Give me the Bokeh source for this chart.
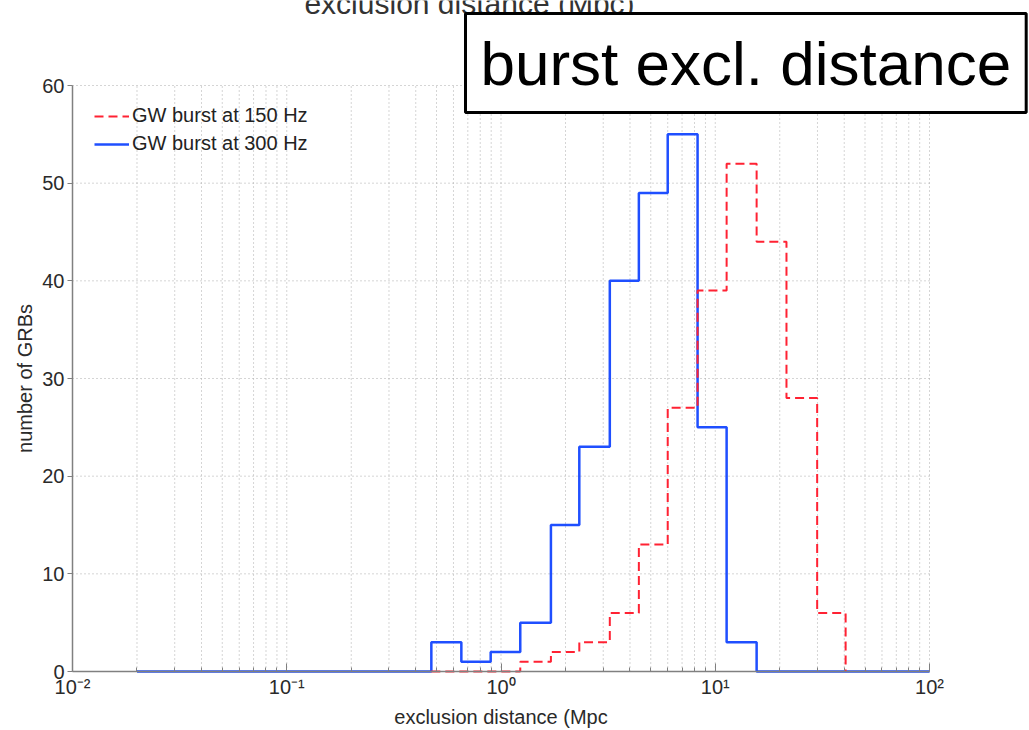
from bokeh.plotting import figure
from bokeh.models import (Label, Legend, LegendItem, FixedTicker, Range1d,
                          LogAxis, LinearAxis)
from bokeh.embed import file_html
from bokeh.resources import INLINE
import math

# ---- data ----
bin_edges = [0.473, 0.653, 0.895, 1.23, 1.71, 2.32, 3.22, 4.40, 6.00, 8.27, 11.3, 15.6, 21.5, 29.9, 40.6]
counts_150hz = [0, 0, 0, 1, 2, 3, 6, 13, 27, 39, 52, 44, 28, 6]
counts_300hz = [3, 1, 2, 5, 15, 23, 40, 49, 55, 25, 3, 0, 0, 0]
baseline_start_300hz = 0.02
baseline_end_300hz = 100.0
series_names = ["GW burst at 150 Hz", "GW burst at 300 Hz"]

x_ticks = [0.01, 0.1, 1, 10, 100]
x_tick_labels = ["10\u207b\u00b2", "10\u207b\u00b9", "10\u2070", "10\u00b9", "10\u00b2"]
x_minor_mults = [2, 3, 4, 5, 6, 7, 8, 9]
y_ticks = [0, 10, 20, 30, 40, 50, 60]
y_tick_labels = ["0", "10", "20", "30", "40", "50", "60"]

FONT = "Liberation Sans"

# ---- page geometry (pixels) ----
W, H = 1029, 730
AX_LEFT, AX_RIGHT, AX_TOP, AX_BOTTOM = 72, 929, 85, 671


def stairs(edges, counts):
    xs, ys = [], []
    for i, c in enumerate(counts):
        xs += [edges[i], edges[i + 1]]
        ys += [c, c]
    return xs, ys


# 150 Hz: starts at first edge, drops to zero at the last edge
x150, y150 = stairs(bin_edges, counts_150hz)
x150 = [bin_edges[0]] + x150 + [bin_edges[-1]]
y150 = [0] + y150 + [0]

# 300 Hz: flat zero line from the start, then bins, then flat zero to the end
x300, y300 = stairs(bin_edges, counts_300hz)
x300 = [baseline_start_300hz, bin_edges[0]] + x300 + [bin_edges[-1], baseline_end_300hz]
y300 = [0, 0] + y300 + [0, 0]

# The plotting frame covers the whole page; the axes sit at fixed positions
# inside it so that the caption box may overlap the axes area.
lx0, lx1 = math.log10(x_ticks[0]), math.log10(x_ticks[-1])
px_per_dec = (AX_RIGHT - AX_LEFT) / (lx1 - lx0)
x_start = 10 ** (lx0 - AX_LEFT / px_per_dec)
x_end = 10 ** (lx1 + (W - AX_RIGHT) / px_per_dec)
px_per_unit = (AX_BOTTOM - AX_TOP) / (y_ticks[-1] - y_ticks[0])
y_start = y_ticks[0] - (H - AX_BOTTOM) / px_per_unit
y_end = y_ticks[-1] + AX_TOP / px_per_unit

p = figure(
    x_axis_type="log", x_axis_location=None, y_axis_location=None,
    x_range=Range1d(x_start, x_end), y_range=Range1d(y_start, y_end),
    width=W, height=H, min_border=0,
    output_backend="svg", toolbar_location=None,
    background_fill_color="white", border_fill_color="white",
)
p.outline_line_color = None
p.grid.visible = False

# ---- dotted grid (only inside the axes box) ----
minor = [m * t for t in x_ticks[:-1] for m in x_minor_mults]
vgrid = x_ticks[1:] + minor
grid_color = "#aaaaaa"
p.segment(x0=vgrid, y0=[y_ticks[0]] * len(vgrid), x1=vgrid, y1=[y_ticks[-1]] * len(vgrid),
          line_color=grid_color, line_width=1, line_dash="1 3")
hgrid = y_ticks[1:]
p.segment(x0=[x_ticks[0]] * len(hgrid), y0=hgrid, x1=[x_ticks[-1]] * len(hgrid), y1=hgrid,
          line_color=grid_color, line_width=1, line_dash="1 3")

# ---- axes ----
xax = LogAxis(fixed_location=y_ticks[0], bounds=(x_ticks[0], x_ticks[-1]),
              ticker=FixedTicker(ticks=x_ticks, minor_ticks=minor),
              major_label_overrides={t: l for t, l in zip(x_ticks, x_tick_labels)},
              axis_label="exclusion distance (Mpc")
yax = LinearAxis(fixed_location=x_ticks[0], bounds=(y_ticks[0], y_ticks[-1]),
                 ticker=FixedTicker(ticks=y_ticks),
                 major_label_overrides={t: l for t, l in zip(y_ticks, y_tick_labels)},
                 axis_label="number of GRBs")
for ax in (xax, yax):
    ax.axis_line_color = "#808080"
    ax.axis_line_width = 1.5
    ax.major_tick_line_color = "#808080"
    ax.minor_tick_line_color = "#808080"
    ax.major_label_text_font = FONT
    ax.major_label_text_font_size = "20px"
    ax.major_label_text_color = "#2a2a2a"
    ax.axis_label_text_font = FONT
    ax.axis_label_text_font_size = "20px"
    ax.axis_label_text_font_style = "normal"
    ax.axis_label_text_color = "#2a2a2a"

xax.major_tick_in = 8
xax.major_tick_out = 0
xax.minor_tick_in = 4
xax.minor_tick_out = 0
xax.major_label_standoff = 4
xax.axis_label_standoff = 5

yax.major_tick_in = 0
yax.major_tick_out = 5
yax.minor_tick_line_color = None
yax.major_label_standoff = 3
yax.axis_label_standoff = 3

p.add_layout(xax, "below")
p.add_layout(yax, "left")

# ---- histograms ----
r300 = p.line(x300, y300, line_color="#1f4fff", line_width=2.5)
r150 = p.line(x150, y150, line_color="#ff2233", line_width=2, line_dash="9 5")

legend = Legend(
    items=[LegendItem(label=series_names[0], renderers=[r150]),
           LegendItem(label=series_names[1], renderers=[r300])],
    location=(94, 575),
    label_text_font=FONT, label_text_font_size="20px", label_text_color="#222222",
    glyph_width=35, glyph_height=20, label_height=20, label_standoff=3,
    spacing=5, padding=10, margin=0,
    border_line_color=None, background_fill_alpha=0,
)
p.add_layout(legend)

# ---- title cut off at the very top (as in the reference) and the boxed caption ----
title_lbl = Label(x=469, y=H - 3, x_units="screen", y_units="screen",
                  text="exclusion distance (Mpc)", text_font=FONT,
                  text_font_size="30px", text_color="#333333",
                  text_align="center", text_baseline="alphabetic")
p.add_layout(title_lbl)

box_lbl = Label(x=465, y=H - 112, x_units="screen", y_units="screen",
                text="burst excl. distance",
                text_font=FONT, text_font_size="62px",
                text_color="black", text_align="left", text_baseline="bottom",
                background_fill_color="white", border_line_color="black",
                border_line_width=3, padding=15)
p.add_layout(box_lbl)

open("out.html", "w").write(file_html(p, INLINE))
